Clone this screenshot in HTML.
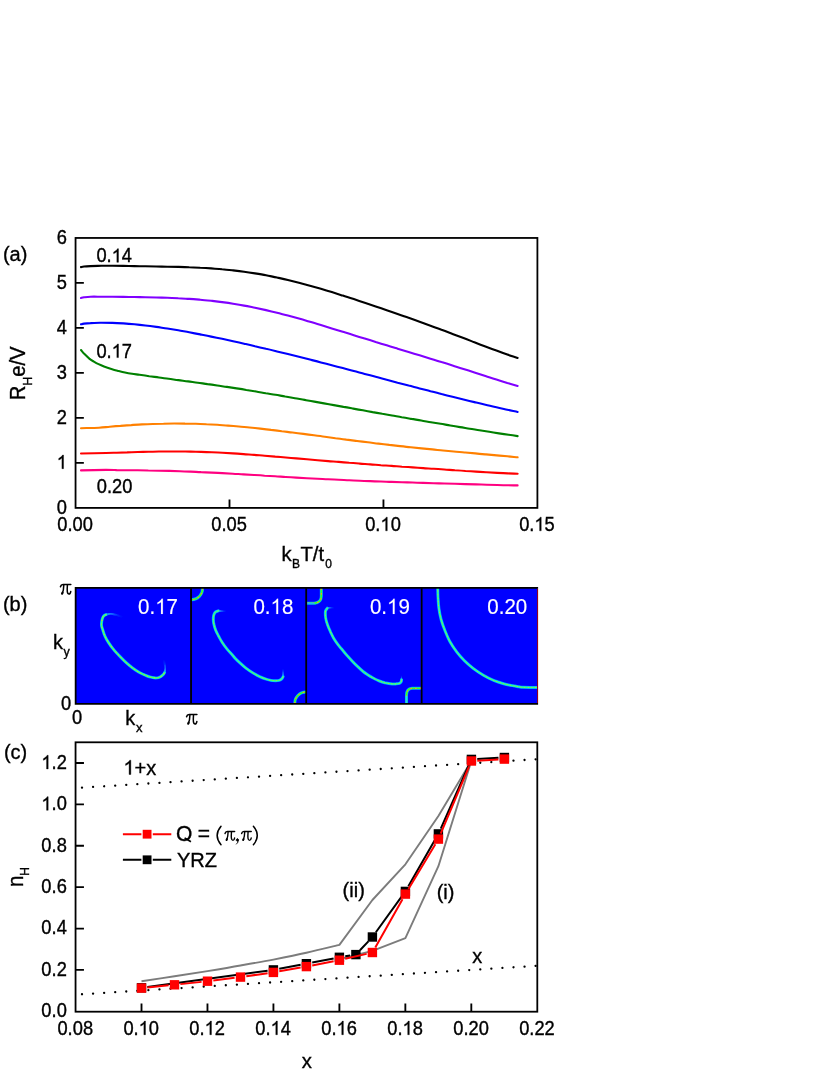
<!DOCTYPE html>
<html><head><meta charset="utf-8"><title>figure</title>
<style>
html,body{margin:0;padding:0;background:#fff;}
svg{display:block;will-change:transform;}
text{font-family:"Liberation Sans",sans-serif;fill:#000;stroke:#000;stroke-width:0.35px;}
.t{font-size:18.3px;}
.l{font-size:20.3px;}
.q{font-size:21px;}
.m{font-size:20px;}
.w{font-size:20.5px;fill:#fff;stroke:#fff;stroke-width:0.15px;}
.fr{fill:none;stroke:#000;stroke-width:1.8;}
.tk{stroke:#000;stroke-width:1.85;fill:none;}
.c{fill:none;stroke-width:2.1;stroke-linecap:round;stroke-linejoin:round;}
</style></head><body>
<svg width="830" height="1075" viewBox="0 0 830 1075">
<rect width="830" height="1075" fill="#fff"/>

<g id="pa">
<path class="c" stroke="#000000" d="M81.0,267.1C81.5,267.0 82.4,266.7 84.0,266.5C85.6,266.3 87.6,266.2 90.5,266.1C93.4,266.0 97.8,265.9 101.5,265.8C105.1,265.8 108.8,265.8 112.4,265.8C116.1,265.8 119.8,265.9 123.4,265.9C127.1,266.0 130.7,266.0 134.4,266.1C138.0,266.2 141.7,266.2 145.3,266.3C149.0,266.4 152.7,266.4 156.3,266.5C160.0,266.6 163.6,266.6 167.3,266.7C170.9,266.8 174.6,266.8 178.3,266.9C181.9,267.0 185.6,267.1 189.2,267.3C192.9,267.4 196.5,267.6 200.2,267.8C203.8,267.9 207.5,268.1 211.2,268.4C214.8,268.7 218.5,268.9 222.1,269.3C225.8,269.6 229.4,270.0 233.1,270.4C236.8,270.8 240.4,271.2 244.1,271.7C247.7,272.2 251.4,272.8 255.0,273.4C258.7,274.0 262.4,274.6 266.0,275.3C269.7,276.0 273.3,276.8 277.0,277.5C280.6,278.3 284.3,279.1 287.9,280.0C291.6,280.9 295.3,281.8 298.9,282.7C302.6,283.7 306.2,284.7 309.9,285.7C313.5,286.7 317.2,287.8 320.9,288.8C324.5,289.9 328.2,291.0 331.8,292.1C335.5,293.2 339.1,294.4 342.8,295.6C346.4,296.7 350.1,297.9 353.8,299.1C357.4,300.3 361.1,301.5 364.7,302.7C368.4,304.0 372.0,305.2 375.7,306.4C379.4,307.7 383.0,308.9 386.7,310.2C390.3,311.4 394.0,312.7 397.6,314.0C401.3,315.3 405.0,316.6 408.6,317.8C412.3,319.1 415.9,320.4 419.6,321.8C423.2,323.1 426.9,324.4 430.5,325.7C434.2,327.1 437.9,328.4 441.5,329.8C445.2,331.1 448.8,332.5 452.5,333.9C456.1,335.3 459.8,336.7 463.5,338.1C467.1,339.4 470.8,340.9 474.4,342.3C478.1,343.7 481.7,345.1 485.4,346.5C489.0,347.9 492.7,349.3 496.4,350.6C500.0,352.0 503.8,353.4 507.3,354.6C510.9,355.8 515.9,357.3 517.6,357.9"/>
<path class="c" stroke="#8000ff" d="M81.0,298.0C81.5,297.9 82.4,297.5 84.0,297.3C85.6,297.1 87.6,296.8 90.5,296.7C93.4,296.6 97.8,296.7 101.5,296.7C105.1,296.7 108.8,296.7 112.4,296.7C116.1,296.8 119.8,296.8 123.4,296.9C127.1,296.9 130.7,297.0 134.4,297.0C138.0,297.1 141.7,297.1 145.3,297.2C149.0,297.3 152.7,297.4 156.3,297.5C160.0,297.6 163.6,297.7 167.3,297.8C170.9,297.9 174.6,298.1 178.3,298.3C181.9,298.4 185.6,298.7 189.2,298.9C192.9,299.1 196.5,299.4 200.2,299.7C203.8,300.0 207.5,300.4 211.2,300.8C214.8,301.2 218.5,301.6 222.1,302.1C225.8,302.6 229.4,303.1 233.1,303.7C236.8,304.3 240.4,304.9 244.1,305.6C247.7,306.2 251.4,307.0 255.0,307.7C258.7,308.5 262.4,309.3 266.0,310.1C269.7,311.0 273.3,311.8 277.0,312.7C280.6,313.7 284.3,314.6 287.9,315.6C291.6,316.6 295.3,317.6 298.9,318.6C302.6,319.6 306.2,320.7 309.9,321.8C313.5,322.8 317.2,323.9 320.9,325.0C324.5,326.1 328.2,327.3 331.8,328.4C335.5,329.5 339.1,330.6 342.8,331.8C346.4,332.9 350.1,334.0 353.8,335.2C357.4,336.3 361.1,337.5 364.7,338.6C368.4,339.7 372.0,340.8 375.7,342.0C379.4,343.1 383.0,344.2 386.7,345.3C390.3,346.5 394.0,347.6 397.6,348.7C401.3,349.8 405.0,350.9 408.6,352.0C412.3,353.1 415.9,354.2 419.6,355.3C423.2,356.4 426.9,357.6 430.5,358.7C434.2,359.8 437.9,360.9 441.5,362.1C445.2,363.2 448.8,364.3 452.5,365.5C456.1,366.6 459.8,367.8 463.5,369.0C467.1,370.1 470.8,371.3 474.4,372.5C478.1,373.7 481.7,374.9 485.4,376.1C489.0,377.2 492.7,378.4 496.4,379.6C500.0,380.7 503.8,381.9 507.3,383.0C510.9,384.0 515.9,385.4 517.6,385.9"/>
<path class="c" stroke="#0000ff" d="M81.0,324.3C81.5,324.2 82.4,323.8 84.0,323.6C85.6,323.4 87.6,323.2 90.5,323.1C93.4,322.9 97.8,322.8 101.5,322.7C105.1,322.7 108.8,322.8 112.4,322.9C116.1,323.0 119.8,323.2 123.4,323.4C127.1,323.7 130.7,324.0 134.4,324.3C138.0,324.7 141.7,325.1 145.3,325.5C149.0,325.9 152.7,326.4 156.3,326.9C160.0,327.4 163.6,328.0 167.3,328.5C170.9,329.1 174.6,329.7 178.3,330.3C181.9,331.0 185.6,331.6 189.2,332.3C192.9,333.0 196.5,333.7 200.2,334.4C203.8,335.1 207.5,335.8 211.2,336.6C214.8,337.3 218.5,338.1 222.1,338.8C225.8,339.6 229.4,340.4 233.1,341.2C236.8,342.0 240.4,342.8 244.1,343.7C247.7,344.5 251.4,345.3 255.0,346.2C258.7,347.0 262.4,347.9 266.0,348.8C269.7,349.6 273.3,350.5 277.0,351.4C280.6,352.3 284.3,353.2 287.9,354.1C291.6,355.0 295.3,355.9 298.9,356.8C302.6,357.7 306.2,358.6 309.9,359.6C313.5,360.5 317.2,361.4 320.9,362.4C324.5,363.3 328.2,364.3 331.8,365.2C335.5,366.2 339.1,367.1 342.8,368.1C346.4,369.1 350.1,370.0 353.8,371.0C357.4,372.0 361.1,372.9 364.7,373.9C368.4,374.9 372.0,375.8 375.7,376.8C379.4,377.8 383.0,378.8 386.7,379.7C390.3,380.7 394.0,381.7 397.6,382.7C401.3,383.6 405.0,384.6 408.6,385.6C412.3,386.5 415.9,387.5 419.6,388.4C423.2,389.4 426.9,390.3 430.5,391.3C434.2,392.2 437.9,393.1 441.5,394.1C445.2,395.0 448.8,395.9 452.5,396.8C456.1,397.7 459.8,398.6 463.5,399.5C467.1,400.4 470.8,401.3 474.4,402.1C478.1,403.0 481.7,403.9 485.4,404.7C489.0,405.6 492.7,406.4 496.4,407.2C500.0,408.1 503.8,408.9 507.3,409.7C510.9,410.5 515.9,411.5 517.6,411.9"/>
<path class="c" stroke="#008000" d="M81.0,350.0C81.6,350.7 83.1,352.7 84.5,354.1C85.9,355.5 87.8,357.4 89.3,358.6C90.8,359.8 92.0,360.5 93.5,361.4C95.0,362.3 96.2,363.1 98.0,363.9C99.8,364.7 101.9,365.6 104.0,366.4C106.1,367.2 108.3,368.0 110.6,368.7C112.8,369.4 115.1,370.1 117.5,370.7C119.9,371.3 122.6,372.0 125.0,372.5C127.4,373.0 129.6,373.4 132.0,373.8C134.4,374.2 136.6,374.4 139.5,374.8C142.4,375.2 146.0,375.7 149.2,376.2C152.5,376.6 155.7,377.1 158.9,377.5C162.2,377.9 165.4,378.4 168.6,378.8C171.9,379.2 175.1,379.7 178.4,380.1C181.6,380.5 184.8,381.0 188.1,381.4C191.3,381.8 194.5,382.3 197.8,382.7C201.0,383.2 204.3,383.6 207.5,384.1C210.7,384.5 214.0,385.0 217.2,385.5C220.4,386.0 223.7,386.4 226.9,386.9C230.2,387.4 233.4,387.9 236.6,388.4C239.9,388.9 243.1,389.4 246.3,390.0C249.6,390.5 252.8,391.0 256.1,391.5C259.3,392.1 262.5,392.6 265.8,393.2C269.0,393.7 272.2,394.3 275.5,394.8C278.7,395.4 282.0,395.9 285.2,396.5C288.4,397.0 291.7,397.6 294.9,398.2C298.1,398.8 301.4,399.3 304.6,399.9C307.9,400.5 311.1,401.1 314.3,401.6C317.6,402.2 320.8,402.8 324.0,403.4C327.3,404.0 330.5,404.5 333.8,405.1C337.0,405.7 340.2,406.3 343.5,406.9C346.7,407.4 349.9,408.0 353.2,408.6C356.4,409.2 359.7,409.8 362.9,410.3C366.1,410.9 369.4,411.5 372.6,412.1C375.8,412.6 379.1,413.2 382.3,413.8C385.6,414.3 388.8,414.9 392.0,415.5C395.3,416.1 398.5,416.6 401.7,417.2C405.0,417.7 408.2,418.3 411.5,418.9C414.7,419.4 417.9,420.0 421.2,420.5C424.4,421.1 427.6,421.6 430.9,422.2C434.1,422.7 437.4,423.3 440.6,423.8C443.8,424.4 447.1,424.9 450.3,425.5C453.5,426.0 456.8,426.6 460.0,427.1C463.3,427.6 466.5,428.2 469.7,428.7C473.0,429.2 476.2,429.8 479.4,430.3C482.7,430.8 485.9,431.3 489.2,431.8C492.4,432.4 495.6,432.9 498.9,433.4C502.1,433.9 505.5,434.4 508.6,434.8C511.7,435.3 516.1,435.9 517.6,436.1"/>
<path class="c" stroke="#ff8000" d="M81.0,428.2C84.0,428.1 94.2,427.9 99.0,427.7C103.8,427.4 106.2,427.0 109.8,426.7C113.3,426.4 116.9,426.1 120.5,425.9C124.1,425.6 127.7,425.3 131.3,425.1C134.8,424.8 138.4,424.6 142.0,424.4C145.6,424.3 149.2,424.1 152.8,424.0C156.3,423.8 159.9,423.7 163.5,423.7C167.1,423.6 170.7,423.5 174.3,423.5C177.8,423.5 181.4,423.5 185.0,423.6C188.6,423.6 192.2,423.7 195.8,423.8C199.3,423.9 202.9,424.1 206.5,424.3C210.1,424.4 213.7,424.6 217.3,424.8C220.8,425.1 224.4,425.3 228.0,425.6C231.6,425.9 235.2,426.2 238.8,426.5C242.4,426.8 245.9,427.2 249.5,427.5C253.1,427.9 256.7,428.2 260.3,428.6C263.9,429.0 267.4,429.4 271.0,429.9C274.6,430.3 278.2,430.7 281.8,431.2C285.4,431.6 288.9,432.1 292.5,432.5C296.1,433.0 299.7,433.4 303.3,433.9C306.9,434.4 310.4,434.8 314.0,435.3C317.6,435.8 321.2,436.3 324.8,436.7C328.4,437.2 331.9,437.7 335.5,438.2C339.1,438.6 342.7,439.1 346.3,439.6C349.9,440.0 353.4,440.5 357.0,441.0C360.6,441.4 364.2,441.9 367.8,442.3C371.4,442.7 374.9,443.2 378.5,443.6C382.1,444.0 385.7,444.5 389.3,444.9C392.9,445.3 396.5,445.7 400.0,446.1C403.6,446.5 407.2,446.9 410.8,447.2C414.4,447.6 418.0,448.0 421.5,448.4C425.1,448.7 428.7,449.1 432.3,449.4C435.9,449.8 439.5,450.1 443.0,450.5C446.6,450.8 450.2,451.2 453.8,451.5C457.4,451.8 461.0,452.2 464.5,452.5C468.1,452.8 471.7,453.1 475.3,453.4C478.9,453.8 482.5,454.1 486.0,454.4C489.6,454.7 493.2,455.1 496.8,455.4C500.4,455.7 504.1,456.0 507.5,456.3C511.0,456.7 515.9,457.1 517.6,457.3"/>
<path class="c" stroke="#ff0000" d="M81.0,453.5C85.2,453.4 100.2,453.1 106.1,453.0C112.0,452.9 113.1,452.8 116.7,452.7C120.2,452.6 123.7,452.5 127.2,452.4C130.8,452.2 134.3,452.1 137.8,452.0C141.3,451.9 144.9,451.8 148.4,451.7C151.9,451.7 155.4,451.6 158.9,451.5C162.5,451.5 166.0,451.5 169.5,451.5C173.0,451.5 176.6,451.5 180.1,451.5C183.6,451.5 187.1,451.6 190.7,451.6C194.2,451.7 197.7,451.8 201.2,451.9C204.7,452.0 208.3,452.2 211.8,452.3C215.3,452.5 218.8,452.7 222.4,452.8C225.9,453.0 229.4,453.2 232.9,453.4C236.5,453.7 240.0,453.9 243.5,454.1C247.0,454.4 250.5,454.6 254.1,454.9C257.6,455.2 261.1,455.4 264.6,455.7C268.2,456.0 271.7,456.3 275.2,456.6C278.7,456.9 282.3,457.2 285.8,457.5C289.3,457.8 292.8,458.1 296.3,458.4C299.9,458.7 303.4,459.0 306.9,459.3C310.4,459.6 314.0,459.9 317.5,460.2C321.0,460.5 324.5,460.8 328.1,461.1C331.6,461.4 335.1,461.6 338.6,461.9C342.1,462.2 345.7,462.5 349.2,462.8C352.7,463.0 356.2,463.3 359.8,463.6C363.3,463.9 366.8,464.1 370.3,464.4C373.9,464.7 377.4,464.9 380.9,465.2C384.4,465.4 387.9,465.7 391.5,465.9C395.0,466.2 398.5,466.4 402.0,466.7C405.6,466.9 409.1,467.1 412.6,467.4C416.1,467.6 419.7,467.9 423.2,468.1C426.7,468.3 430.2,468.6 433.7,468.8C437.3,469.1 440.8,469.3 444.3,469.5C447.8,469.8 451.4,470.0 454.9,470.3C458.4,470.5 461.9,470.7 465.5,471.0C469.0,471.2 472.5,471.4 476.0,471.6C479.5,471.9 483.1,472.1 486.6,472.3C490.1,472.5 493.6,472.7 497.2,472.9C500.7,473.1 504.3,473.3 507.7,473.4C511.1,473.6 516.0,473.7 517.6,473.8"/>
<path class="c" stroke="#ff0080" d="M81.0,470.4C85.2,470.3 100.1,470.0 106.0,469.9C111.9,469.9 113.0,470.0 116.6,470.1C120.1,470.1 123.6,470.1 127.1,470.2C130.7,470.2 134.2,470.3 137.7,470.3C141.2,470.3 144.8,470.4 148.3,470.5C151.8,470.5 155.3,470.6 158.9,470.7C162.4,470.7 165.9,470.8 169.4,470.9C173.0,471.0 176.5,471.1 180.0,471.2C183.5,471.4 187.1,471.5 190.6,471.6C194.1,471.8 197.6,471.9 201.1,472.1C204.7,472.2 208.2,472.4 211.7,472.6C215.2,472.8 218.8,473.0 222.3,473.1C225.8,473.3 229.3,473.5 232.9,473.7C236.4,473.9 239.9,474.2 243.4,474.4C247.0,474.6 250.5,474.8 254.0,475.0C257.5,475.2 261.1,475.4 264.6,475.7C268.1,475.9 271.6,476.1 275.1,476.3C278.7,476.5 282.2,476.8 285.7,477.0C289.2,477.2 292.8,477.4 296.3,477.6C299.8,477.8 303.3,478.0 306.9,478.2C310.4,478.4 313.9,478.6 317.4,478.8C321.0,479.0 324.5,479.1 328.0,479.3C331.5,479.5 335.1,479.7 338.6,479.8C342.1,480.0 345.6,480.1 349.2,480.3C352.7,480.5 356.2,480.6 359.7,480.7C363.2,480.9 366.8,481.0 370.3,481.1C373.8,481.3 377.3,481.4 380.9,481.5C384.4,481.6 387.9,481.8 391.4,481.9C395.0,482.0 398.5,482.1 402.0,482.2C405.5,482.3 409.1,482.4 412.6,482.5C416.1,482.7 419.6,482.8 423.2,482.9C426.7,483.0 430.2,483.1 433.7,483.2C437.2,483.3 440.8,483.4 444.3,483.5C447.8,483.6 451.3,483.7 454.9,483.8C458.4,483.9 461.9,484.0 465.4,484.1C469.0,484.2 472.5,484.3 476.0,484.4C479.5,484.5 483.1,484.6 486.6,484.7C490.1,484.8 493.6,484.9 497.2,485.0C500.7,485.1 504.3,485.2 507.7,485.2C511.1,485.3 516.0,485.4 517.6,485.4"/>
<rect class="fr" x="75.55" y="237.95" width="461.85" height="269.95"/>
<path class="tk" d="M75.55,462.91 h8.3M75.55,417.92 h8.3M75.55,372.92 h8.3M75.55,327.93 h8.3M75.55,282.94 h8.3M229.50,507.90 v-8.3M383.45,507.90 v-8.3"/>
<g transform="translate(66.90,513.65) scale(1,1.076)"><text class="t" x="-10.17">0</text></g>
<g transform="translate(66.90,468.66) scale(1,1.076)"><path d="M-3.36,0.00L-4.97,0.00L-4.97,-9.87Q-5.55,-9.34 -6.49,-8.81Q-7.43,-8.27 -8.18,-8.01L-8.18,-9.50Q-6.83,-10.11 -5.82,-10.98Q-4.81,-11.85 -4.39,-12.67L-3.36,-12.67Z" fill="#000" stroke="#000" stroke-width="0.35"/></g>
<g transform="translate(66.90,423.67) scale(1,1.076)"><text class="t" x="-10.17">2</text></g>
<g transform="translate(66.90,378.67) scale(1,1.076)"><text class="t" x="-10.17">3</text></g>
<g transform="translate(66.90,333.68) scale(1,1.076)"><text class="t" x="-10.17">4</text></g>
<g transform="translate(66.90,288.69) scale(1,1.076)"><text class="t" x="-10.17">5</text></g>
<g transform="translate(66.90,243.70) scale(1,1.076)"><text class="t" x="-10.17">6</text></g>
<g transform="translate(75.10,530.80) scale(1,1.076)"><text class="t" x="-17.81 -7.63 -2.54 7.63">0.00</text></g>
<g transform="translate(229.05,530.80) scale(1,1.076)"><text class="t" x="-17.81 -7.63 -2.54 7.63">0.05</text></g>
<g transform="translate(383.00,530.80) scale(1,1.076)"><text class="t" x="-17.81 -7.63 7.63">0.0</text><path d="M4.27,0.00L2.67,0.00L2.67,-9.87Q2.08,-9.34 1.14,-8.81Q0.20,-8.27 -0.55,-8.01L-0.55,-9.50Q0.80,-10.11 1.81,-10.98Q2.82,-11.85 3.24,-12.67L4.27,-12.67Z" fill="#000" stroke="#000" stroke-width="0.35"/></g>
<g transform="translate(536.95,530.80) scale(1,1.076)"><text class="t" x="-17.81 -7.63 7.63">0.5</text><path d="M4.27,0.00L2.67,0.00L2.67,-9.87Q2.08,-9.34 1.14,-8.81Q0.20,-8.27 -0.55,-8.01L-0.55,-9.50Q0.80,-10.11 1.81,-10.98Q2.82,-11.85 3.24,-12.67L4.27,-12.67Z" fill="#000" stroke="#000" stroke-width="0.35"/></g>
<g transform="translate(96.40,262.30) scale(1,1.076)"><text class="t" x="0.00 10.17 25.44">0.4</text><path d="M22.08,0.00L20.47,0.00L20.47,-9.87Q19.89,-9.34 18.95,-8.81Q18.01,-8.27 17.25,-8.01L17.25,-9.50Q18.60,-10.11 19.61,-10.98Q20.62,-11.85 21.04,-12.67L22.08,-12.67Z" fill="#000" stroke="#000" stroke-width="0.35"/></g>
<g transform="translate(96.40,357.60) scale(1,1.076)"><text class="t" x="0.00 10.17 25.44">0.7</text><path d="M22.08,0.00L20.47,0.00L20.47,-9.87Q19.89,-9.34 18.95,-8.81Q18.01,-8.27 17.25,-8.01L17.25,-9.50Q18.60,-10.11 19.61,-10.98Q20.62,-11.85 21.04,-12.67L22.08,-12.67Z" fill="#000" stroke="#000" stroke-width="0.35"/></g>
<text class="t" transform="translate(96.80,493.10) scale(1,1.076)">0.20</text>
<text class="m" transform="translate(2.90,260.50) scale(1,0.990)">(a)</text>
<text class="l" transform="translate(24.60,400.20) rotate(-90) scale(1,1.070)">R<tspan font-size="12" dy="6.6">H</tspan><tspan dy="-6.6">e/V</tspan></text>
<text class="l" transform="translate(281.50,560.70) scale(1,1.000)">k<tspan font-size="12" dx="0.4" dy="7">B</tspan><tspan dx="0.4" dy="-7">T/t</tspan><tspan font-size="12" dx="1.0" dy="7">0</tspan></text>
</g>
<g id="pb">
<defs><filter id="bl" x="-20%" y="-20%" width="140%" height="140%"><feGaussianBlur stdDeviation="0.6"/></filter>
<clipPath id="cb"><rect x="75.65" y="587.90" width="461.35" height="115.95"/></clipPath>
<linearGradient id="g1" gradientUnits="userSpaceOnUse" x1="106.1" y1="614.6" x2="123.4" y2="617.4"><stop offset="0" stop-color="#20b0ff" stop-opacity="0.95"/><stop offset="0.45" stop-color="#1070ff" stop-opacity="0.7"/><stop offset="1" stop-color="#0030ff" stop-opacity="0"/></linearGradient>
<linearGradient id="g2" gradientUnits="userSpaceOnUse" x1="164.6" y1="672.5" x2="163.4" y2="659.2"><stop offset="0" stop-color="#20b0ff" stop-opacity="0.95"/><stop offset="0.45" stop-color="#1070ff" stop-opacity="0.7"/><stop offset="1" stop-color="#0030ff" stop-opacity="0"/></linearGradient>
<linearGradient id="g3" gradientUnits="userSpaceOnUse" x1="218.4" y1="610.8" x2="226.7" y2="611.5"><stop offset="0" stop-color="#20b0ff" stop-opacity="0.95"/><stop offset="0.45" stop-color="#1070ff" stop-opacity="0.7"/><stop offset="1" stop-color="#0030ff" stop-opacity="0"/></linearGradient>
<linearGradient id="g4" gradientUnits="userSpaceOnUse" x1="283.1" y1="676.6" x2="282.9" y2="668.3"><stop offset="0" stop-color="#20b0ff" stop-opacity="0.95"/><stop offset="0.45" stop-color="#1070ff" stop-opacity="0.7"/><stop offset="1" stop-color="#0030ff" stop-opacity="0"/></linearGradient>
<linearGradient id="g5" gradientUnits="userSpaceOnUse" x1="327.3" y1="608.2" x2="334.6" y2="607.5"><stop offset="0" stop-color="#20b0ff" stop-opacity="0.95"/><stop offset="0.45" stop-color="#1070ff" stop-opacity="0.7"/><stop offset="1" stop-color="#0030ff" stop-opacity="0"/></linearGradient>
<linearGradient id="g6" gradientUnits="userSpaceOnUse" x1="401.6" y1="679.6" x2="401.6" y2="675.2"><stop offset="0" stop-color="#20b0ff" stop-opacity="0.95"/><stop offset="0.45" stop-color="#1070ff" stop-opacity="0.7"/><stop offset="1" stop-color="#0030ff" stop-opacity="0"/></linearGradient>
</defs>
<rect x="75.65" y="587.90" width="461.65" height="115.95" fill="#0000ff"/>
<g clip-path="url(#cb)">
<path d="M123.4,617.4C122.8,617.2 121.0,616.5 119.8,616.1C118.6,615.7 117.8,615.3 116.2,614.9C114.6,614.5 112.1,613.8 110.4,613.8C108.7,613.8 106.8,614.5 106.1,614.6" fill="none" stroke="url(#g1)" stroke-width="2.0" filter="url(#bl)"/>
<path d="M164.6,672.5C164.7,671.8 165.4,669.7 165.4,668.1C165.4,666.5 164.7,664.3 164.4,662.8C164.1,661.3 163.6,659.8 163.4,659.2" fill="none" stroke="url(#g2)" stroke-width="2.0" filter="url(#bl)"/>
<path d="M226.7,611.5C225.8,611.5 223.0,611.3 221.6,611.2C220.2,611.1 218.9,610.9 218.4,610.8" fill="none" stroke="url(#g3)" stroke-width="2.0" filter="url(#bl)"/>
<path d="M283.1,676.6C283.1,675.9 283.1,674.0 283.1,672.6C283.1,671.2 282.9,669.0 282.9,668.3" fill="none" stroke="url(#g4)" stroke-width="2.0" filter="url(#bl)"/>
<path d="M334.6,607.5C333.8,607.5 331.1,607.4 329.9,607.5C328.7,607.6 327.7,608.1 327.3,608.2" fill="none" stroke="url(#g5)" stroke-width="2.0" filter="url(#bl)"/>
<path d="M401.6,679.6C401.6,679.2 401.7,678.2 401.7,677.5C401.7,676.8 401.6,675.6 401.6,675.2" fill="none" stroke="url(#g6)" stroke-width="2.0" filter="url(#bl)"/>
<path d="M106.1,614.6C105.7,614.8 104.3,615.4 103.7,616.0C103.1,616.6 102.8,617.3 102.4,618.5C102.0,619.7 101.6,622.0 101.5,623.3C101.4,624.5 101.4,625.0 101.6,626.0C101.8,627.0 102.1,627.7 102.6,629.3C103.1,630.9 103.8,633.6 104.8,635.8C105.8,638.0 107.0,640.2 108.4,642.4C109.8,644.6 111.3,646.7 113.1,648.9C114.8,651.1 116.9,653.2 118.9,655.4C121.0,657.6 123.1,659.8 125.4,661.9C127.7,664.0 130.2,666.2 132.6,668.0C135.0,669.8 137.4,671.4 139.8,672.7C142.2,674.0 145.1,675.2 147.1,676.0C149.1,676.8 150.6,677.1 152.0,677.4C153.4,677.7 154.6,677.9 155.7,677.9C156.8,677.9 157.7,677.8 158.5,677.6C159.3,677.4 159.7,677.3 160.5,676.8C161.3,676.3 162.7,675.1 163.4,674.4C164.1,673.7 164.4,672.8 164.6,672.5" fill="none" stroke="#0090ff" stroke-width="3.0" stroke-linecap="round" filter="url(#bl)"/>
<path d="M106.1,614.6C105.7,614.8 104.3,615.4 103.7,616.0C103.1,616.6 102.8,617.3 102.4,618.5C102.0,619.7 101.6,622.0 101.5,623.3C101.4,624.5 101.4,625.0 101.6,626.0C101.8,627.0 102.1,627.7 102.6,629.3C103.1,630.9 103.8,633.6 104.8,635.8C105.8,638.0 107.0,640.2 108.4,642.4C109.8,644.6 111.3,646.7 113.1,648.9C114.8,651.1 116.9,653.2 118.9,655.4C121.0,657.6 123.1,659.8 125.4,661.9C127.7,664.0 130.2,666.2 132.6,668.0C135.0,669.8 137.4,671.4 139.8,672.7C142.2,674.0 145.1,675.2 147.1,676.0C149.1,676.8 150.6,677.1 152.0,677.4C153.4,677.7 154.6,677.9 155.7,677.9C156.8,677.9 157.7,677.8 158.5,677.6C159.3,677.4 159.7,677.3 160.5,676.8C161.3,676.3 162.7,675.1 163.4,674.4C164.1,673.7 164.4,672.8 164.6,672.5" fill="none" stroke="#00e8f0" stroke-width="2.0" stroke-linecap="round"/>
<path d="M106.1,614.6C105.7,614.8 104.3,615.4 103.7,616.0C103.1,616.6 102.8,617.3 102.4,618.5C102.0,619.7 101.6,622.0 101.5,623.3C101.4,624.5 101.4,625.0 101.6,626.0C101.8,627.0 102.1,627.7 102.6,629.3C103.1,630.9 103.8,633.6 104.8,635.8C105.8,638.0 107.0,640.2 108.4,642.4C109.8,644.6 111.3,646.7 113.1,648.9C114.8,651.1 116.9,653.2 118.9,655.4C121.0,657.6 123.1,659.8 125.4,661.9C127.7,664.0 130.2,666.2 132.6,668.0C135.0,669.8 137.4,671.4 139.8,672.7C142.2,674.0 145.1,675.2 147.1,676.0C149.1,676.8 150.6,677.1 152.0,677.4C153.4,677.7 154.6,677.9 155.7,677.9C156.8,677.9 157.7,677.8 158.5,677.6C159.3,677.4 159.7,677.3 160.5,676.8C161.3,676.3 162.7,675.1 163.4,674.4C164.1,673.7 164.4,672.8 164.6,672.5" fill="none" stroke="#40ff70" stroke-width="1.25" stroke-linecap="round"/>
<path d="M106.1,614.6C105.7,614.8 104.3,615.4 103.7,616.0C103.1,616.6 102.8,617.3 102.4,618.5C102.0,619.7 101.6,622.0 101.5,623.3C101.4,624.5 101.4,625.0 101.6,626.0C101.8,627.0 102.1,627.7 102.6,629.3C103.1,630.9 103.8,633.6 104.8,635.8C105.8,638.0 107.0,640.2 108.4,642.4C109.8,644.6 111.3,646.7 113.1,648.9C114.8,651.1 116.9,653.2 118.9,655.4C121.0,657.6 123.1,659.8 125.4,661.9C127.7,664.0 130.2,666.2 132.6,668.0C135.0,669.8 137.4,671.4 139.8,672.7C142.2,674.0 145.1,675.2 147.1,676.0C149.1,676.8 150.6,677.1 152.0,677.4C153.4,677.7 154.6,677.9 155.7,677.9C156.8,677.9 157.7,677.8 158.5,677.6C159.3,677.4 159.7,677.3 160.5,676.8C161.3,676.3 162.7,675.1 163.4,674.4C164.1,673.7 164.4,672.8 164.6,672.5" fill="none" stroke="#ffc800" stroke-width="1.15" stroke-dasharray="0.9 2.7" opacity="0.85"/>
<path d="M218.4,610.8C217.9,611.0 216.3,611.3 215.5,612.0C214.7,612.7 214.2,613.6 213.8,614.9C213.4,616.2 213.3,618.0 213.3,619.6C213.3,621.2 213.6,622.9 214.0,624.7C214.4,626.5 215.0,628.6 215.8,630.5C216.6,632.4 217.6,634.2 218.7,636.3C219.8,638.3 221.1,640.8 222.4,642.8C223.7,644.8 225.1,646.7 226.7,648.6C228.3,650.5 230.4,652.7 231.8,654.3C233.2,655.9 233.5,656.5 235.0,658.1C236.5,659.7 238.9,662.0 240.8,663.7C242.7,665.5 244.6,667.1 246.6,668.6C248.6,670.1 250.9,671.7 253.1,673.0C255.3,674.3 257.4,675.6 259.6,676.6C261.8,677.6 264.2,678.5 266.1,679.1C268.0,679.7 269.6,680.1 271.2,680.4C272.8,680.7 274.2,680.7 275.5,680.7C276.8,680.7 278.1,680.7 279.1,680.4C280.1,680.1 280.9,679.6 281.6,679.0C282.3,678.4 282.9,677.0 283.1,676.6" fill="none" stroke="#0090ff" stroke-width="3.0" stroke-linecap="round" filter="url(#bl)"/>
<path d="M218.4,610.8C217.9,611.0 216.3,611.3 215.5,612.0C214.7,612.7 214.2,613.6 213.8,614.9C213.4,616.2 213.3,618.0 213.3,619.6C213.3,621.2 213.6,622.9 214.0,624.7C214.4,626.5 215.0,628.6 215.8,630.5C216.6,632.4 217.6,634.2 218.7,636.3C219.8,638.3 221.1,640.8 222.4,642.8C223.7,644.8 225.1,646.7 226.7,648.6C228.3,650.5 230.4,652.7 231.8,654.3C233.2,655.9 233.5,656.5 235.0,658.1C236.5,659.7 238.9,662.0 240.8,663.7C242.7,665.5 244.6,667.1 246.6,668.6C248.6,670.1 250.9,671.7 253.1,673.0C255.3,674.3 257.4,675.6 259.6,676.6C261.8,677.6 264.2,678.5 266.1,679.1C268.0,679.7 269.6,680.1 271.2,680.4C272.8,680.7 274.2,680.7 275.5,680.7C276.8,680.7 278.1,680.7 279.1,680.4C280.1,680.1 280.9,679.6 281.6,679.0C282.3,678.4 282.9,677.0 283.1,676.6" fill="none" stroke="#00e8f0" stroke-width="2.0" stroke-linecap="round"/>
<path d="M218.4,610.8C217.9,611.0 216.3,611.3 215.5,612.0C214.7,612.7 214.2,613.6 213.8,614.9C213.4,616.2 213.3,618.0 213.3,619.6C213.3,621.2 213.6,622.9 214.0,624.7C214.4,626.5 215.0,628.6 215.8,630.5C216.6,632.4 217.6,634.2 218.7,636.3C219.8,638.3 221.1,640.8 222.4,642.8C223.7,644.8 225.1,646.7 226.7,648.6C228.3,650.5 230.4,652.7 231.8,654.3C233.2,655.9 233.5,656.5 235.0,658.1C236.5,659.7 238.9,662.0 240.8,663.7C242.7,665.5 244.6,667.1 246.6,668.6C248.6,670.1 250.9,671.7 253.1,673.0C255.3,674.3 257.4,675.6 259.6,676.6C261.8,677.6 264.2,678.5 266.1,679.1C268.0,679.7 269.6,680.1 271.2,680.4C272.8,680.7 274.2,680.7 275.5,680.7C276.8,680.7 278.1,680.7 279.1,680.4C280.1,680.1 280.9,679.6 281.6,679.0C282.3,678.4 282.9,677.0 283.1,676.6" fill="none" stroke="#40ff70" stroke-width="1.00" stroke-linecap="round"/>
<path d="M218.4,610.8C217.9,611.0 216.3,611.3 215.5,612.0C214.7,612.7 214.2,613.6 213.8,614.9C213.4,616.2 213.3,618.0 213.3,619.6C213.3,621.2 213.6,622.9 214.0,624.7C214.4,626.5 215.0,628.6 215.8,630.5C216.6,632.4 217.6,634.2 218.7,636.3C219.8,638.3 221.1,640.8 222.4,642.8C223.7,644.8 225.1,646.7 226.7,648.6C228.3,650.5 230.4,652.7 231.8,654.3C233.2,655.9 233.5,656.5 235.0,658.1C236.5,659.7 238.9,662.0 240.8,663.7C242.7,665.5 244.6,667.1 246.6,668.6C248.6,670.1 250.9,671.7 253.1,673.0C255.3,674.3 257.4,675.6 259.6,676.6C261.8,677.6 264.2,678.5 266.1,679.1C268.0,679.7 269.6,680.1 271.2,680.4C272.8,680.7 274.2,680.7 275.5,680.7C276.8,680.7 278.1,680.7 279.1,680.4C280.1,680.1 280.9,679.6 281.6,679.0C282.3,678.4 282.9,677.0 283.1,676.6" fill="none" stroke="#ffc800" stroke-width="0.90" stroke-dasharray="0.9 2.7" opacity="0.85"/>
<path d="M327.3,608.2C327.0,608.7 325.8,609.9 325.5,611.1C325.2,612.3 325.3,613.9 325.4,615.5C325.5,617.1 325.8,618.7 326.2,620.5C326.6,622.3 327.4,624.4 328.1,626.3C328.8,628.2 329.7,630.0 330.6,632.1C331.6,634.2 332.6,636.5 333.8,638.6C335.0,640.7 336.8,643.1 338.0,644.7C339.2,646.4 339.7,646.8 341.2,648.5C342.7,650.2 344.9,653.1 346.8,655.2C348.7,657.3 350.5,659.3 352.3,661.2C354.1,663.1 355.9,664.9 357.7,666.6C359.5,668.3 361.3,670.0 363.1,671.5C364.9,673.0 366.7,674.1 368.5,675.3C370.3,676.5 372.2,677.5 374.0,678.5C375.8,679.5 377.6,680.3 379.4,681.0C381.2,681.7 383.0,682.3 384.8,682.8C386.6,683.2 388.4,683.5 390.2,683.7C392.0,683.9 394.2,684.0 395.7,683.9C397.2,683.8 398.5,683.8 399.4,683.4C400.3,683.0 400.7,682.4 401.1,681.8C401.5,681.2 401.5,680.0 401.6,679.6" fill="none" stroke="#0090ff" stroke-width="3.0" stroke-linecap="round" filter="url(#bl)"/>
<path d="M327.3,608.2C327.0,608.7 325.8,609.9 325.5,611.1C325.2,612.3 325.3,613.9 325.4,615.5C325.5,617.1 325.8,618.7 326.2,620.5C326.6,622.3 327.4,624.4 328.1,626.3C328.8,628.2 329.7,630.0 330.6,632.1C331.6,634.2 332.6,636.5 333.8,638.6C335.0,640.7 336.8,643.1 338.0,644.7C339.2,646.4 339.7,646.8 341.2,648.5C342.7,650.2 344.9,653.1 346.8,655.2C348.7,657.3 350.5,659.3 352.3,661.2C354.1,663.1 355.9,664.9 357.7,666.6C359.5,668.3 361.3,670.0 363.1,671.5C364.9,673.0 366.7,674.1 368.5,675.3C370.3,676.5 372.2,677.5 374.0,678.5C375.8,679.5 377.6,680.3 379.4,681.0C381.2,681.7 383.0,682.3 384.8,682.8C386.6,683.2 388.4,683.5 390.2,683.7C392.0,683.9 394.2,684.0 395.7,683.9C397.2,683.8 398.5,683.8 399.4,683.4C400.3,683.0 400.7,682.4 401.1,681.8C401.5,681.2 401.5,680.0 401.6,679.6" fill="none" stroke="#00e8f0" stroke-width="2.0" stroke-linecap="round"/>
<path d="M327.3,608.2C327.0,608.7 325.8,609.9 325.5,611.1C325.2,612.3 325.3,613.9 325.4,615.5C325.5,617.1 325.8,618.7 326.2,620.5C326.6,622.3 327.4,624.4 328.1,626.3C328.8,628.2 329.7,630.0 330.6,632.1C331.6,634.2 332.6,636.5 333.8,638.6C335.0,640.7 336.8,643.1 338.0,644.7C339.2,646.4 339.7,646.8 341.2,648.5C342.7,650.2 344.9,653.1 346.8,655.2C348.7,657.3 350.5,659.3 352.3,661.2C354.1,663.1 355.9,664.9 357.7,666.6C359.5,668.3 361.3,670.0 363.1,671.5C364.9,673.0 366.7,674.1 368.5,675.3C370.3,676.5 372.2,677.5 374.0,678.5C375.8,679.5 377.6,680.3 379.4,681.0C381.2,681.7 383.0,682.3 384.8,682.8C386.6,683.2 388.4,683.5 390.2,683.7C392.0,683.9 394.2,684.0 395.7,683.9C397.2,683.8 398.5,683.8 399.4,683.4C400.3,683.0 400.7,682.4 401.1,681.8C401.5,681.2 401.5,680.0 401.6,679.6" fill="none" stroke="#40ff70" stroke-width="1.00" stroke-linecap="round"/>
<path d="M327.3,608.2C327.0,608.7 325.8,609.9 325.5,611.1C325.2,612.3 325.3,613.9 325.4,615.5C325.5,617.1 325.8,618.7 326.2,620.5C326.6,622.3 327.4,624.4 328.1,626.3C328.8,628.2 329.7,630.0 330.6,632.1C331.6,634.2 332.6,636.5 333.8,638.6C335.0,640.7 336.8,643.1 338.0,644.7C339.2,646.4 339.7,646.8 341.2,648.5C342.7,650.2 344.9,653.1 346.8,655.2C348.7,657.3 350.5,659.3 352.3,661.2C354.1,663.1 355.9,664.9 357.7,666.6C359.5,668.3 361.3,670.0 363.1,671.5C364.9,673.0 366.7,674.1 368.5,675.3C370.3,676.5 372.2,677.5 374.0,678.5C375.8,679.5 377.6,680.3 379.4,681.0C381.2,681.7 383.0,682.3 384.8,682.8C386.6,683.2 388.4,683.5 390.2,683.7C392.0,683.9 394.2,684.0 395.7,683.9C397.2,683.8 398.5,683.8 399.4,683.4C400.3,683.0 400.7,682.4 401.1,681.8C401.5,681.2 401.5,680.0 401.6,679.6" fill="none" stroke="#ffc800" stroke-width="0.90" stroke-dasharray="0.9 2.7" opacity="0.85"/>
<path d="M437.7,587.0C437.8,588.7 437.8,593.7 438.0,597.2C438.2,600.8 438.4,604.6 438.9,608.3C439.4,612.0 440.1,615.8 441.1,619.5C442.1,623.2 443.5,627.0 445.0,630.7C446.5,634.4 448.1,638.3 450.0,641.8C451.9,645.3 454.3,648.7 456.7,651.9C459.1,655.1 461.7,658.0 464.5,660.8C467.3,663.6 470.3,666.2 473.5,668.6C476.7,671.0 480.1,673.3 483.5,675.3C486.9,677.3 490.2,679.0 493.6,680.4C497.0,681.8 500.7,682.9 503.6,683.7C506.5,684.5 509.1,685.0 511.0,685.4C512.9,685.8 513.7,685.9 515.0,686.1C516.3,686.3 517.7,686.6 519.0,686.8C520.3,687.0 521.2,687.2 523.0,687.3C524.8,687.4 527.4,687.4 530.0,687.4C532.6,687.4 537.1,687.4 538.5,687.4" fill="none" stroke="#0090ff" stroke-width="3.0" stroke-linecap="round" filter="url(#bl)"/>
<path d="M437.7,587.0C437.8,588.7 437.8,593.7 438.0,597.2C438.2,600.8 438.4,604.6 438.9,608.3C439.4,612.0 440.1,615.8 441.1,619.5C442.1,623.2 443.5,627.0 445.0,630.7C446.5,634.4 448.1,638.3 450.0,641.8C451.9,645.3 454.3,648.7 456.7,651.9C459.1,655.1 461.7,658.0 464.5,660.8C467.3,663.6 470.3,666.2 473.5,668.6C476.7,671.0 480.1,673.3 483.5,675.3C486.9,677.3 490.2,679.0 493.6,680.4C497.0,681.8 500.7,682.9 503.6,683.7C506.5,684.5 509.1,685.0 511.0,685.4C512.9,685.8 513.7,685.9 515.0,686.1C516.3,686.3 517.7,686.6 519.0,686.8C520.3,687.0 521.2,687.2 523.0,687.3C524.8,687.4 527.4,687.4 530.0,687.4C532.6,687.4 537.1,687.4 538.5,687.4" fill="none" stroke="#00e8f0" stroke-width="2.0" stroke-linecap="round"/>
<path d="M437.7,587.0C437.8,588.7 437.8,593.7 438.0,597.2C438.2,600.8 438.4,604.6 438.9,608.3C439.4,612.0 440.1,615.8 441.1,619.5C442.1,623.2 443.5,627.0 445.0,630.7C446.5,634.4 448.1,638.3 450.0,641.8C451.9,645.3 454.3,648.7 456.7,651.9C459.1,655.1 461.7,658.0 464.5,660.8C467.3,663.6 470.3,666.2 473.5,668.6C476.7,671.0 480.1,673.3 483.5,675.3C486.9,677.3 490.2,679.0 493.6,680.4C497.0,681.8 500.7,682.9 503.6,683.7C506.5,684.5 509.1,685.0 511.0,685.4C512.9,685.8 513.7,685.9 515.0,686.1C516.3,686.3 517.7,686.6 519.0,686.8C520.3,687.0 521.2,687.2 523.0,687.3C524.8,687.4 527.4,687.4 530.0,687.4C532.6,687.4 537.1,687.4 538.5,687.4" fill="none" stroke="#40ff70" stroke-width="1.00" stroke-linecap="round"/>
<path d="M437.7,587.0C437.8,588.7 437.8,593.7 438.0,597.2C438.2,600.8 438.4,604.6 438.9,608.3C439.4,612.0 440.1,615.8 441.1,619.5C442.1,623.2 443.5,627.0 445.0,630.7C446.5,634.4 448.1,638.3 450.0,641.8C451.9,645.3 454.3,648.7 456.7,651.9C459.1,655.1 461.7,658.0 464.5,660.8C467.3,663.6 470.3,666.2 473.5,668.6C476.7,671.0 480.1,673.3 483.5,675.3C486.9,677.3 490.2,679.0 493.6,680.4C497.0,681.8 500.7,682.9 503.6,683.7C506.5,684.5 509.1,685.0 511.0,685.4C512.9,685.8 513.7,685.9 515.0,686.1C516.3,686.3 517.7,686.6 519.0,686.8C520.3,687.0 521.2,687.2 523.0,687.3C524.8,687.4 527.4,687.4 530.0,687.4C532.6,687.4 537.1,687.4 538.5,687.4" fill="none" stroke="#ffc800" stroke-width="0.90" stroke-dasharray="0.9 2.7" opacity="0.85"/>
<path d="M202.5,588.3 A10.9,10.9 0 0 1 191.5,599.7" fill="none" stroke="#0090ff" stroke-width="3.0" filter="url(#bl)"/>
<path d="M202.5,588.3 A10.9,10.9 0 0 1 191.5,599.7" fill="none" stroke="#00f0c0" stroke-width="2.0"/>
<path d="M202.5,588.3 A10.9,10.9 0 0 1 191.5,599.7" fill="none" stroke="#40ff10" stroke-width="1.3"/>
<path d="M202.5,588.3 A10.9,10.9 0 0 1 191.5,599.7" fill="none" stroke="#ff9020" stroke-width="1.2" stroke-dasharray="1.6 3.2"/>
<path d="M294.8,703.5 A10.9,10.9 0 0 1 305.8,692.1" fill="none" stroke="#0090ff" stroke-width="3.0" filter="url(#bl)"/>
<path d="M294.8,703.5 A10.9,10.9 0 0 1 305.8,692.1" fill="none" stroke="#00f0c0" stroke-width="2.0"/>
<path d="M294.8,703.5 A10.9,10.9 0 0 1 305.8,692.1" fill="none" stroke="#40ff10" stroke-width="1.3"/>
<path d="M294.8,703.5 A10.9,10.9 0 0 1 305.8,692.1" fill="none" stroke="#ff9020" stroke-width="1.2" stroke-dasharray="1.6 3.2"/>
<path d="M321.3,588.3 V596 C321.3,599.5 319.6,601.9 316.8,602.7 C315.8,603.1 314.9,603.2 314,603.2 H306.8" fill="none" stroke="#0090ff" stroke-width="3.0" filter="url(#bl)"/>
<path d="M321.3,588.3 V596 C321.3,599.5 319.6,601.9 316.8,602.7 C315.8,603.1 314.9,603.2 314,603.2 H306.8" fill="none" stroke="#00f0c0" stroke-width="2.0"/>
<path d="M321.3,588.3 V596 C321.3,599.5 319.6,601.9 316.8,602.7 C315.8,603.1 314.9,603.2 314,603.2 H306.8" fill="none" stroke="#40ff10" stroke-width="1.3"/>
<path d="M321.3,588.3 V596 C321.3,599.5 319.6,601.9 316.8,602.7 C315.8,603.1 314.9,603.2 314,603.2 H306.8" fill="none" stroke="#ff9020" stroke-width="1.2" stroke-dasharray="1.6 3.2"/>
<path d="M421.5,688.3 H411.9 C408.7,688.5 406.5,691 406.5,695.3 V703.5" fill="none" stroke="#0090ff" stroke-width="3.0" filter="url(#bl)"/>
<path d="M421.5,688.3 H411.9 C408.7,688.5 406.5,691 406.5,695.3 V703.5" fill="none" stroke="#00f0c0" stroke-width="2.0"/>
<path d="M421.5,688.3 H411.9 C408.7,688.5 406.5,691 406.5,695.3 V703.5" fill="none" stroke="#40ff10" stroke-width="1.3"/>
<path d="M421.5,688.3 H411.9 C408.7,688.5 406.5,691 406.5,695.3 V703.5" fill="none" stroke="#ff9020" stroke-width="1.2" stroke-dasharray="1.6 3.2"/>
<path d="M314.5,603.2 H306.8" fill="none" stroke="#20b0ff" stroke-width="1.6"/>
<path d="M406.5,696 V703.5" fill="none" stroke="#20d0ff" stroke-width="1.5"/>
</g>
<path d="M537.55,588.80 V702.95" stroke="#90001c" stroke-width="1.1" fill="none"/>
<path class="fr" d="M74.75,587.90 H538.10 M74.75,703.85 H538.10 M75.65,587.90 V703.85 M191.05,587.90 V703.85 M306.20,587.90 V703.85 M421.65,587.90 V703.85"/>
<g transform="translate(138.10,613.90) scale(1,1.076)"><text class="w" x="0.00 11.40 28.50">0.7</text><path d="M24.73,0.00L22.93,0.00L22.93,-11.06Q22.28,-10.46 21.23,-9.86Q20.17,-9.27 19.33,-8.97L19.33,-10.65Q20.84,-11.33 21.97,-12.30Q23.10,-13.28 23.57,-14.19L24.73,-14.19Z" fill="#fff" stroke="#fff" stroke-width="0.15"/></g>
<g transform="translate(253.40,613.90) scale(1,1.076)"><text class="w" x="0.00 11.40 28.50">0.8</text><path d="M24.73,0.00L22.93,0.00L22.93,-11.06Q22.28,-10.46 21.23,-9.86Q20.17,-9.27 19.33,-8.97L19.33,-10.65Q20.84,-11.33 21.97,-12.30Q23.10,-13.28 23.57,-14.19L24.73,-14.19Z" fill="#fff" stroke="#fff" stroke-width="0.15"/></g>
<g transform="translate(369.90,613.90) scale(1,1.076)"><text class="w" x="0.00 11.40 28.50">0.9</text><path d="M24.73,0.00L22.93,0.00L22.93,-11.06Q22.28,-10.46 21.23,-9.86Q20.17,-9.27 19.33,-8.97L19.33,-10.65Q20.84,-11.33 21.97,-12.30Q23.10,-13.28 23.57,-14.19L24.73,-14.19Z" fill="#fff" stroke="#fff" stroke-width="0.15"/></g>
<g transform="translate(487.30,613.90) scale(1,1.076)"><text class="w" x="0.00 11.40 17.10 28.50">0.20</text></g>
<text class="m" transform="translate(2.90,610.50) scale(1,0.990)">(b)</text>
<g transform="translate(59.90,583.70) scale(1.000)" fill="none" stroke="#000" stroke-linecap="round"><path stroke-width="1.55" d="M0.55,3.0 C0.9,1.6 1.7,0.85 3.1,0.85 H10.9"/><path stroke-width="1.5" d="M3.9,1.2 C3.8,4.5 3.3,7.6 2.5,9.6"/><path stroke-width="2.1" d="M2.6,9.0 L2.15,10.0"/><path stroke-width="1.5" d="M7.5,1.2 C7.3,4 7.2,6.5 7.4,8 C7.6,9.6 8.3,10.35 9.1,10.35 C10.0,10.35 10.6,9.4 10.85,7.9"/></g>
<text class="m" transform="translate(53.00,648.50) scale(1,1.035)">k<tspan font-size="12.5" dx="0.5" dy="7.1">y</tspan></text>
<text class="t" transform="translate(60.90,709.70) scale(1,1.076)">0</text>
<text class="t" transform="translate(72.00,724.10) scale(1,1.076)">0</text>
<text class="m" transform="translate(125.30,724.70) scale(1,1.035)">k<tspan font-size="13" dx="0.8" dy="6.9">x</tspan></text>
<g transform="translate(186.00,713.70) scale(1.000)" fill="none" stroke="#000" stroke-linecap="round"><path stroke-width="1.55" d="M0.55,3.0 C0.9,1.6 1.7,0.85 3.1,0.85 H10.9"/><path stroke-width="1.5" d="M3.9,1.2 C3.8,4.5 3.3,7.6 2.5,9.6"/><path stroke-width="2.1" d="M2.6,9.0 L2.15,10.0"/><path stroke-width="1.5" d="M7.5,1.2 C7.3,4 7.2,6.5 7.4,8 C7.6,9.6 8.3,10.35 9.1,10.35 C10.0,10.35 10.6,9.4 10.85,7.9"/></g>
</g>
<g id="pc">
<path d="M82.00,787.66 L536.10,759.26" stroke="#000" stroke-width="2.3" stroke-linecap="round" stroke-dasharray="0.01 11.0751" fill="none"/>
<path d="M82.00,994.26 L536.10,965.86" stroke="#000" stroke-width="2.3" stroke-linecap="round" stroke-dasharray="0.01 11.0751" fill="none"/>
<path d="M141.5,981.2C147.0,980.4 163.5,978.0 174.5,976.3C185.5,974.6 196.5,972.9 207.5,971.1C218.5,969.3 229.5,967.5 240.5,965.5C251.4,963.6 262.4,961.7 273.4,959.6C284.4,957.4 295.4,955.2 306.4,952.7C317.4,950.3 333.9,946.2 339.4,944.9 L372.4,900.0 L405.4,864.3 L438.4,816.0 L471.4,760.8" fill="none" stroke="#7c7c7c" stroke-width="1.9" stroke-linejoin="round"/>
<path d="M339.4,959.1L372.4,950.9L405.4,938.1L438.4,866.2L471.4,760.8" fill="none" stroke="#7c7c7c" stroke-width="1.9" stroke-linejoin="round"/>
<path d="M147.33,986.96 L267.59,970.67M279.24,968.79 L300.63,964.77M312.22,962.56 L333.63,958.40M345.24,956.33 L350.09,955.54M359.95,950.29 L368.37,941.33M375.87,932.25 L401.94,896.15M408.34,886.26 L435.45,839.05M440.78,828.54 L468.99,764.75M477.27,759.02 L498.48,757.83" fill="none" stroke="#000" stroke-width="2.0"/>
<rect x="136.8" y="983.1" width="9.4" height="9.4" fill="#000"/>
<rect x="268.7" y="965.2" width="9.4" height="9.4" fill="#000"/>
<rect x="301.7" y="959.0" width="9.4" height="9.4" fill="#000"/>
<rect x="334.7" y="952.6" width="9.4" height="9.4" fill="#000"/>
<rect x="351.2" y="949.9" width="9.4" height="9.4" fill="#000"/>
<rect x="367.7" y="932.3" width="9.4" height="9.4" fill="#000"/>
<rect x="400.7" y="886.7" width="9.4" height="9.4" fill="#000"/>
<rect x="433.7" y="829.2" width="9.4" height="9.4" fill="#000"/>
<rect x="466.7" y="754.7" width="9.4" height="9.4" fill="#000"/>
<rect x="499.7" y="752.8" width="9.4" height="9.4" fill="#000"/>
<path d="M147.35,987.47 L168.60,985.34M180.34,984.13 L201.59,981.87M213.31,980.51 L234.60,977.84M246.29,976.27 L267.60,973.20M279.25,971.34 L300.62,967.59M312.22,965.45 L333.63,961.29M345.17,958.84 L366.66,953.86M375.31,947.39 L402.50,899.20M408.44,889.00 L435.35,844.16M440.69,833.67 L469.08,766.44M477.27,760.68 L498.48,759.48" fill="none" stroke="#ff0000" stroke-width="2.0"/>
<rect x="136.8" y="983.4" width="9.4" height="9.4" fill="#ff0000"/>
<rect x="169.8" y="980.1" width="9.4" height="9.4" fill="#ff0000"/>
<rect x="202.8" y="976.5" width="9.4" height="9.4" fill="#ff0000"/>
<rect x="235.8" y="972.4" width="9.4" height="9.4" fill="#ff0000"/>
<rect x="268.7" y="967.7" width="9.4" height="9.4" fill="#ff0000"/>
<rect x="301.7" y="961.9" width="9.4" height="9.4" fill="#ff0000"/>
<rect x="334.7" y="955.5" width="9.4" height="9.4" fill="#ff0000"/>
<rect x="367.7" y="947.8" width="9.4" height="9.4" fill="#ff0000"/>
<rect x="400.7" y="889.4" width="9.4" height="9.4" fill="#ff0000"/>
<rect x="433.7" y="834.4" width="9.4" height="9.4" fill="#ff0000"/>
<rect x="466.7" y="756.3" width="9.4" height="9.4" fill="#ff0000"/>
<rect x="499.7" y="754.4" width="9.4" height="9.4" fill="#ff0000"/>
<rect class="fr" x="75.55" y="742.30" width="461.75" height="269.40"/>
<path class="tk" d="M75.55,969.94 h8.4M75.55,928.56 h8.4M75.55,887.17 h8.4M75.55,845.79 h8.4M75.55,804.40 h8.4M75.55,763.01 h8.4M141.51,1011.70 v-8.2M207.47,1011.70 v-8.2M273.43,1011.70 v-8.2M339.39,1011.70 v-8.2M405.35,1011.70 v-8.2M471.31,1011.70 v-8.2"/>
<g transform="translate(66.80,1017.23) scale(1,1.076)"><text class="t" x="-25.44 -15.26 -10.17">0.0</text></g>
<g transform="translate(66.80,975.84) scale(1,1.076)"><text class="t" x="-25.44 -15.26 -10.17">0.2</text></g>
<g transform="translate(66.80,934.46) scale(1,1.076)"><text class="t" x="-25.44 -15.26 -10.17">0.4</text></g>
<g transform="translate(66.80,893.07) scale(1,1.076)"><text class="t" x="-25.44 -15.26 -10.17">0.6</text></g>
<g transform="translate(66.80,851.69) scale(1,1.076)"><text class="t" x="-25.44 -15.26 -10.17">0.8</text></g>
<g transform="translate(66.80,810.30) scale(1,1.076)"><text class="t" x="-15.26 -10.17">.0</text><path d="M-18.62,0.00L-20.23,0.00L-20.23,-9.87Q-20.81,-9.34 -21.75,-8.81Q-22.69,-8.27 -23.44,-8.01L-23.44,-9.50Q-22.10,-10.11 -21.09,-10.98Q-20.08,-11.85 -19.66,-12.67L-18.62,-12.67Z" fill="#000" stroke="#000" stroke-width="0.35"/></g>
<g transform="translate(66.80,768.91) scale(1,1.076)"><text class="t" x="-15.26 -10.17">.2</text><path d="M-18.62,0.00L-20.23,0.00L-20.23,-9.87Q-20.81,-9.34 -21.75,-8.81Q-22.69,-8.27 -23.44,-8.01L-23.44,-9.50Q-22.10,-10.11 -21.09,-10.98Q-20.08,-11.85 -19.66,-12.67L-18.62,-12.67Z" fill="#000" stroke="#000" stroke-width="0.35"/></g>
<g transform="translate(75.25,1034.70) scale(1,1.076)"><text class="t" x="-17.81 -7.63 -2.54 7.63">0.08</text></g>
<g transform="translate(141.21,1034.70) scale(1,1.076)"><text class="t" x="-17.81 -7.63 7.63">0.0</text><path d="M4.27,0.00L2.67,0.00L2.67,-9.87Q2.08,-9.34 1.14,-8.81Q0.20,-8.27 -0.55,-8.01L-0.55,-9.50Q0.80,-10.11 1.81,-10.98Q2.82,-11.85 3.24,-12.67L4.27,-12.67Z" fill="#000" stroke="#000" stroke-width="0.35"/></g>
<g transform="translate(207.17,1034.70) scale(1,1.076)"><text class="t" x="-17.81 -7.63 7.63">0.2</text><path d="M4.27,0.00L2.67,0.00L2.67,-9.87Q2.08,-9.34 1.14,-8.81Q0.20,-8.27 -0.55,-8.01L-0.55,-9.50Q0.80,-10.11 1.81,-10.98Q2.82,-11.85 3.24,-12.67L4.27,-12.67Z" fill="#000" stroke="#000" stroke-width="0.35"/></g>
<g transform="translate(273.13,1034.70) scale(1,1.076)"><text class="t" x="-17.81 -7.63 7.63">0.4</text><path d="M4.27,0.00L2.67,0.00L2.67,-9.87Q2.08,-9.34 1.14,-8.81Q0.20,-8.27 -0.55,-8.01L-0.55,-9.50Q0.80,-10.11 1.81,-10.98Q2.82,-11.85 3.24,-12.67L4.27,-12.67Z" fill="#000" stroke="#000" stroke-width="0.35"/></g>
<g transform="translate(339.09,1034.70) scale(1,1.076)"><text class="t" x="-17.81 -7.63 7.63">0.6</text><path d="M4.27,0.00L2.67,0.00L2.67,-9.87Q2.08,-9.34 1.14,-8.81Q0.20,-8.27 -0.55,-8.01L-0.55,-9.50Q0.80,-10.11 1.81,-10.98Q2.82,-11.85 3.24,-12.67L4.27,-12.67Z" fill="#000" stroke="#000" stroke-width="0.35"/></g>
<g transform="translate(405.05,1034.70) scale(1,1.076)"><text class="t" x="-17.81 -7.63 7.63">0.8</text><path d="M4.27,0.00L2.67,0.00L2.67,-9.87Q2.08,-9.34 1.14,-8.81Q0.20,-8.27 -0.55,-8.01L-0.55,-9.50Q0.80,-10.11 1.81,-10.98Q2.82,-11.85 3.24,-12.67L4.27,-12.67Z" fill="#000" stroke="#000" stroke-width="0.35"/></g>
<g transform="translate(471.01,1034.70) scale(1,1.076)"><text class="t" x="-17.81 -7.63 -2.54 7.63">0.20</text></g>
<g transform="translate(536.97,1034.70) scale(1,1.076)"><text class="t" x="-17.81 -7.63 -2.54 7.63">0.22</text></g>
<text class="m" transform="translate(3.90,758.70) scale(1,0.990)">(c)</text>
<g transform="translate(123.40,774.50) scale(1,1.035)"><text class="m" x="11.12 22.80">+x</text><path d="M7.45,0.00L5.69,0.00L5.69,-10.79Q5.06,-10.21 4.03,-9.62Q3.00,-9.04 2.18,-8.75L2.18,-10.39Q3.65,-11.05 4.76,-12.00Q5.86,-12.95 6.32,-13.85L7.45,-13.85Z" fill="#000" stroke="#000" stroke-width="0.35"/></g>
<text class="m" transform="translate(472.20,962.90) scale(1,1.035)">x</text>
<text class="m" transform="translate(342.60,897.40) scale(1,1.035)">(ii)</text>
<text class="m" transform="translate(436.70,899.10) scale(1,1.035)">(i)</text>
<text class="l" transform="translate(301.70,1067.80) scale(1,1.035)">x</text>
<text class="l" transform="translate(22.70,887.00) rotate(-90) scale(1,1.070)">n<tspan font-size="12" dy="6.3">H</tspan></text>
<path d="M122.9,834.3 H141.4 M152.8,834.3 H171.3" stroke="#ff0000" stroke-width="1.9"/>
<rect x="142.7" y="829.8" width="8.8" height="8.8" fill="#ff0000"/>
<path d="M122.9,859.8 H141.4 M152.8,859.8 H171.3" stroke="#000" stroke-width="1.9"/>
<rect x="142.7" y="855.4" width="8.8" height="8.8" fill="#000"/>
<text class="q" transform="translate(176.10,841.30) scale(1,1.035)">O</text>
<path d="M184.6,837.9 L190.9,841.8" stroke="#000" stroke-width="1.7" fill="none"/>
<text class="q" transform="translate(197.70,841.30) scale(1,1.035)">=</text>
<path d="M221.0,826.3 Q213.3,835.5 221.0,844.7 M253.4,826.3 Q261.1,835.5 253.4,844.7" fill="none" stroke="#000" stroke-width="1.5" stroke-linecap="round"/>
<g transform="translate(224.50,830.70) scale(0.930)" fill="none" stroke="#000" stroke-linecap="round"><path stroke-width="1.55" d="M0.55,3.0 C0.9,1.6 1.7,0.85 3.1,0.85 H10.9"/><path stroke-width="1.5" d="M3.9,1.2 C3.8,4.5 3.3,7.6 2.5,9.6"/><path stroke-width="2.1" d="M2.6,9.0 L2.15,10.0"/><path stroke-width="1.5" d="M7.5,1.2 C7.3,4 7.2,6.5 7.4,8 C7.6,9.6 8.3,10.35 9.1,10.35 C10.0,10.35 10.6,9.4 10.85,7.9"/></g>
<g transform="translate(241.10,830.70) scale(0.930)" fill="none" stroke="#000" stroke-linecap="round"><path stroke-width="1.55" d="M0.55,3.0 C0.9,1.6 1.7,0.85 3.1,0.85 H10.9"/><path stroke-width="1.5" d="M3.9,1.2 C3.8,4.5 3.3,7.6 2.5,9.6"/><path stroke-width="2.1" d="M2.6,9.0 L2.15,10.0"/><path stroke-width="1.5" d="M7.5,1.2 C7.3,4 7.2,6.5 7.4,8 C7.6,9.6 8.3,10.35 9.1,10.35 C10.0,10.35 10.6,9.4 10.85,7.9"/></g>
<path d="M237.4,838.7 a1.25,1.25 0 1 1 -0.01,0 M238.4,840 Q238.6,842.6 236.4,844.2" fill="#000" stroke="#000" stroke-width="0.7" stroke-linecap="round"/>
<text class="m" transform="translate(177.00,866.60) scale(1,1.035)">YRZ</text>
</g>
</svg></body></html>
